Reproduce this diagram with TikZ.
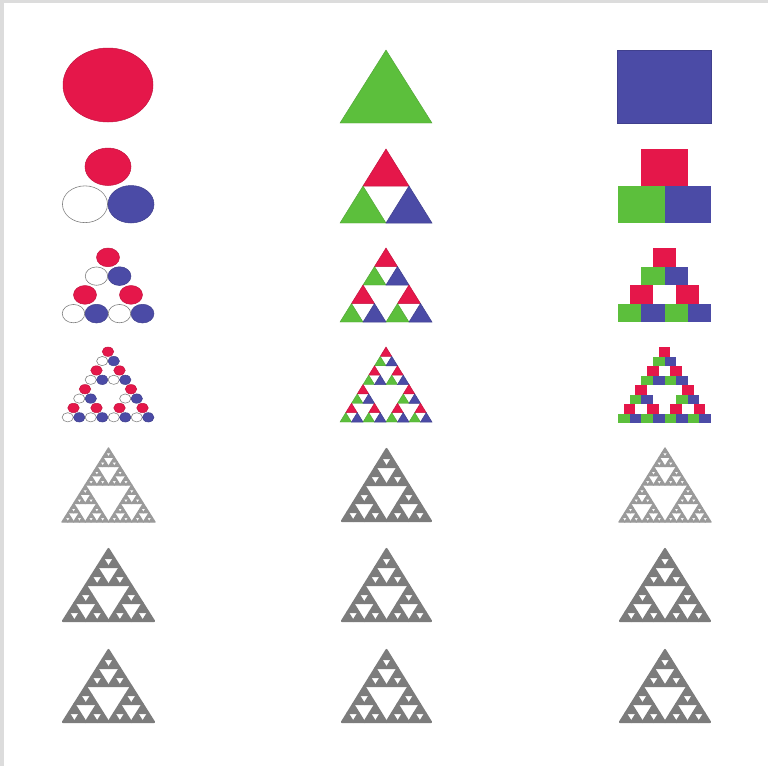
\documentclass[tikz,border=0pt]{standalone}
\definecolor{cred}{HTML}{E5174A}
\definecolor{cgreen}{HTML}{5CBF3C}
\definecolor{cblue}{HTML}{4B4BA6}
\definecolor{framegray}{HTML}{DCDCDC}
\definecolor{dgray}{HTML}{7C7C7C}
\definecolor{lgray}{HTML}{9A9A9A}
\tikzset{
  redfill/.style={fill=cred, draw=cred!85!black, line width=0.5pt},
  greenfill/.style={fill=cgreen, draw=cgreen!85!black, line width=0.4pt},
  bluefill/.style={fill=cblue, draw=cblue!85!black, line width=0.5pt},
  whitefill/.style={fill=white, draw=gray, line width=0.6pt},
  thickgray/.style={fill=dgray, draw=dgray, line width=2.1pt, line join=round},
  thingray/.style={fill=lgray, draw=lgray, line width=1.3pt, line join=round}
}
% recursive Sierpinski arrangement inside the unit box (0,0)-(1,1), y downwards
\newcommand\sierp[3]{%
  \ifnum#1=0 #2{#3}%
  \else
    \begin{scope}[shift={(0.25,0)},scale=0.5]\sierp{\numexpr#1-1\relax}{#2}{0}\end{scope}%
    \begin{scope}[shift={(0,0.5)},scale=0.5]\sierp{\numexpr#1-1\relax}{#2}{1}\end{scope}%
    \begin{scope}[shift={(0.5,0.5)},scale=0.5]\sierp{\numexpr#1-1\relax}{#2}{2}\end{scope}%
  \fi}
\newcommand\cellbox[5]{\begin{scope}[shift={(#1,#2)},xscale=#3,yscale=#4]#5\end{scope}}
\newcommand\trishape{(0,1) -- (0.5,0) -- (1,1) -- cycle}
\newcommand\leafcircle[1]{%
  \ifcase#1 \filldraw[redfill] (0.5,0.5) ellipse [x radius=0.5, y radius=0.5];%
  \or \filldraw[whitefill] (0.5,0.5) ellipse [x radius=0.49, y radius=0.49];%
  \or \filldraw[bluefill] (0.5,0.5) ellipse [x radius=0.5, y radius=0.5];\fi}
\newcommand\leaftri[1]{%
  \ifcase#1 \filldraw[redfill] \trishape;%
  \or \filldraw[greenfill] \trishape;%
  \or \filldraw[bluefill] \trishape;\fi}
\newcommand\leafsquare[1]{%
  \ifcase#1 \fill[cred] (0,0) rectangle (1,1);%
  \or \fill[cgreen] (0,0) rectangle (1,1);%
  \or \fill[cblue] (0,0) rectangle (1,1);\fi}
\newcommand\leafthick[1]{\filldraw[thickgray] \trishape;}
\newcommand\leafthin[1]{\filldraw[thingray] \trishape;}
\begin{document}
\begin{tikzpicture}[x=1pt,y=-1pt]
\useasboundingbox (0,0) rectangle (768,766);
\fill[white] (0,0) rectangle (768,766);
\fill[framegray] (0,0) rectangle (768,3);
\fill[framegray] (0,0) rectangle (4,766);
% row 1
\filldraw[redfill] (108,85) ellipse [x radius=45, y radius=37];
\filldraw[greenfill] (340,123) -- (386,50) -- (432,123) -- cycle;
\filldraw[bluefill] (617,50) rectangle (711,123);
% row 2
\cellbox{62}{148}{92}{75}{\sierp{1}{\leafcircle}{0}}
\cellbox{340}{149}{92}{74}{\sierp{1}{\leaftri}{0}}
\cellbox{618}{149}{93}{74}{\sierp{1}{\leafsquare}{0}}
% row 3
\cellbox{62}{248}{92}{75}{\sierp{2}{\leafcircle}{0}}
\cellbox{340}{248}{92}{74}{\sierp{2}{\leaftri}{0}}
\cellbox{618}{248}{93}{74}{\sierp{2}{\leafsquare}{0}}
% row 4
\cellbox{62}{347}{92}{75}{\sierp{3}{\leafcircle}{0}}
\cellbox{340}{347}{92}{75}{\sierp{3}{\leaftri}{0}}
\cellbox{618}{347}{93}{76}{\sierp{3}{\leafsquare}{0}}
% row 5
\cellbox{62}{448}{93}{74}{\sierp{4}{\leafthin}{0}}
\cellbox{342}{449}{89}{72}{\sierp{3}{\leafthick}{0}}
\cellbox{619}{448}{92}{74}{\sierp{4}{\leafthin}{0}}
% row 6
\cellbox{63}{549}{91}{72}{\sierp{3}{\leafthick}{0}}
\cellbox{342}{549}{89}{72}{\sierp{3}{\leafthick}{0}}
\cellbox{620}{549}{90}{72}{\sierp{3}{\leafthick}{0}}
% row 7
\cellbox{63}{650}{91}{72}{\sierp{3}{\leafthick}{0}}
\cellbox{342}{650}{89}{72}{\sierp{3}{\leafthick}{0}}
\cellbox{620}{650}{90}{72}{\sierp{3}{\leafthick}{0}}
\end{tikzpicture}
\end{document}
